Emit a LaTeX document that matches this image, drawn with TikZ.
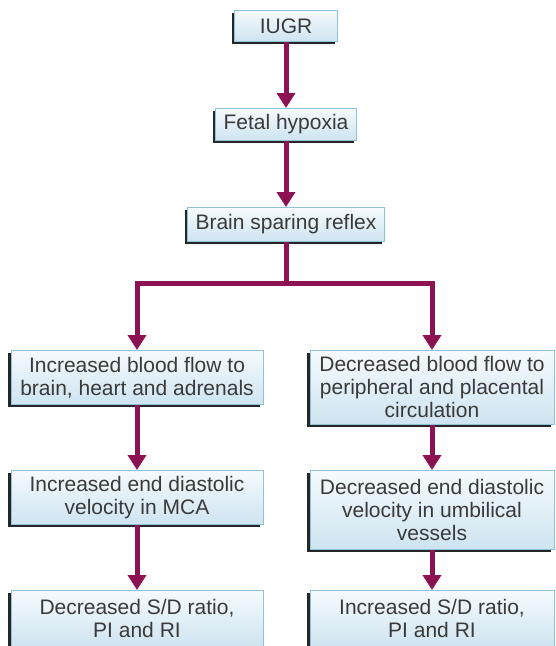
\documentclass[tikz,border=0pt]{standalone}
\usepackage{fontspec}
\setmainfont{Liberation Sans}
\usetikzlibrary{arrows.meta,shadows}

\definecolor{flowline}{RGB}{140,18,84}
\definecolor{boxtop}{RGB}{245,250,253}
\definecolor{boxbottom}{RGB}{206,228,240}
\definecolor{boxrim}{RGB}{140,196,220}
\definecolor{boxtext}{RGB}{58,58,58}
\tikzset{
  stage/.style={draw=boxrim, line width=0.8pt, top color=boxtop, bottom color=boxbottom,
    text=boxtext, align=center, inner sep=2pt, anchor=north,
    font=\fontsize{21}{23}\selectfont,
    drop shadow={shadow xshift=-3pt, shadow yshift=-3pt, fill=black!85, opacity=1}},
  func/.style={-{Triangle[width=18pt,length=15pt]}, line width=5pt, draw=flowline},
}

\begin{document}
\begin{tikzpicture}[x=1pt, y=-1pt]
      \useasboundingbox (0,0) rectangle (556,646);
      \clip (0,0) rectangle (556,646);

      % top chain
      \node [stage, minimum width=103, minimum height=31] (iugr) at (286,10) {IUGR};
      \node [stage, minimum width=141, minimum height=32] (hypoxia) at (286,108) {Fetal hypoxia};
      \node [stage, minimum width=197, minimum height=34] (sparing) at (286,207) {Brain sparing reflex};

      % left column
      \node [stage, minimum width=252, minimum height=54] (brainflow) at (137,350)
        {Increased blood flow to\\brain, heart and adrenals};
      \node [stage, minimum width=252, minimum height=54] (mca) at (137,470)
        {Increased end diastolic\\velocity in MCA};
      \node [stage, minimum width=252, minimum height=57] (lowratio) at (137,590)
        {Decreased S/D ratio,\\PI and RI};

      % right column
      \node [stage, minimum width=244, minimum height=74] (periflow) at (432,350)
        {Decreased blood flow to\\peripheral and placental\\circulation};
      \node [stage, minimum width=244, minimum height=79] (umbilical) at (432,470)
        {Decreased end diastolic\\velocity in umbilical\\vessels};
      \node [stage, minimum width=244, minimum height=57] (highratio) at (432,590)
        {Increased S/D ratio,\\PI and RI};

      \draw [func] (iugr) -- (hypoxia) ;
      \draw [func] (hypoxia) -- (sparing) ;

      % split into the two branches
      \coordinate (split) at (286,283);
      \draw [func, -] (sparing) -- (split) ;
      \draw [func] (split) -| (brainflow) ;
      \draw [func] (split) -| (periflow) ;

      \draw [func] (brainflow) -- (mca) ;
      \draw [func] (mca) -- (lowratio) ;
      \draw [func] (periflow) -- (umbilical) ;
      \draw [func] (umbilical) -- (highratio) ;
    \end{tikzpicture}
\end{document}
